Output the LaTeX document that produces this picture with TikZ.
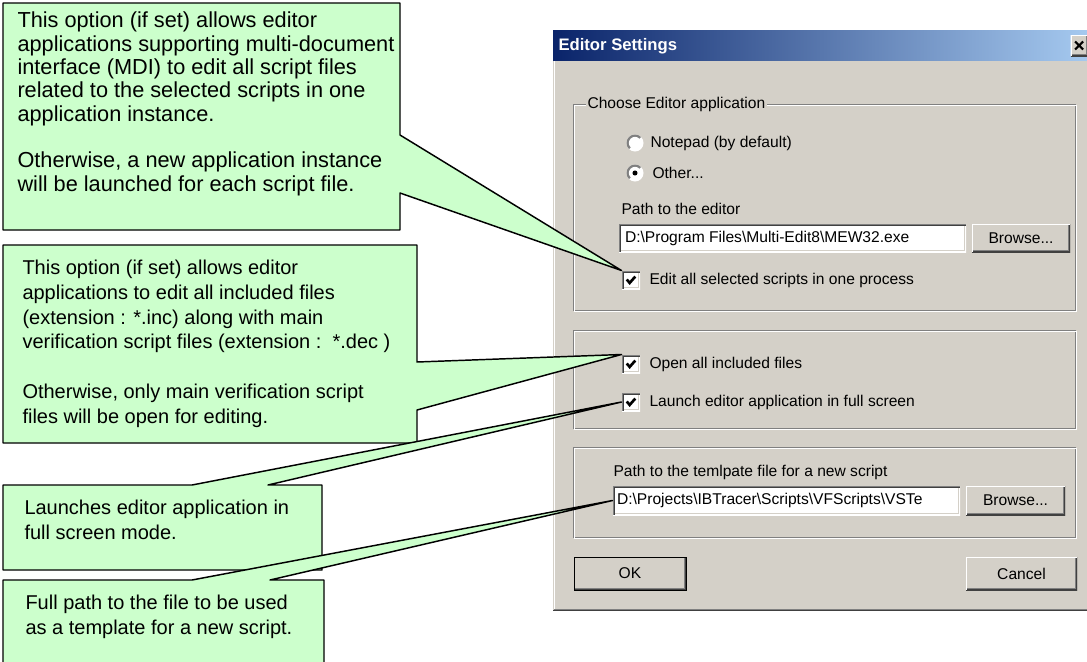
\documentclass[tikz,border=0pt]{standalone}
\usepackage{fontspec}
\setmainfont{Liberation Sans}
\usepackage{tikz}
\usetikzlibrary{calc}

\definecolor{notegreen}{RGB}{204,255,204}
\definecolor{dlgbg}{RGB}{212,208,200}
\definecolor{dlgshadow}{RGB}{128,128,128}
\definecolor{dlgdark}{RGB}{64,64,64}
\definecolor{titledark}{RGB}{10,36,106}
\definecolor{titlelight}{RGB}{166,202,240}

\newcommand\notefont{\fontsize{15pt}{18.6pt}\selectfont}
\newcommand\dlgfont{\fontsize{11.7pt}{14pt}\selectfont}
\newcommand\titlefont{\fontsize{12.5pt}{15pt}\selectfont\bfseries}
\newcommand\bsl{\textbackslash}
% 3d edges of the dialog controls
\newcommand\sunkenedge{%
  \draw[dlgbg, line width=3pt] (path picture bounding box.south west) -| (path picture bounding box.north east);
  \draw[white, line width=1.5pt] (path picture bounding box.south west) -| (path picture bounding box.north east);
  \draw[dlgdark, line width=3pt] (path picture bounding box.south west) |- (path picture bounding box.north east);
  \draw[dlgshadow, line width=1.5pt] (path picture bounding box.south west) |- (path picture bounding box.north east);}
\newcommand\radioring{%
  \fill[dlgshadow] (path picture bounding box.south west) -- (path picture bounding box.north west) -- (path picture bounding box.north east) -- cycle;
  \fill[white] (path picture bounding box.center) circle (4.6pt);}

\tikzset{
  notebox/.style={fill=notegreen, draw=black, line width=1.1pt, line join=round},
  notetext/.style={anchor=north west, align=left, inner sep=0pt, font=\notefont},
  dlgtext/.style={anchor=west, inner sep=0pt, font=\dlgfont},
  grouplabel/.style={dlgtext, fill=dlgbg, inner xsep=1.5pt},
  btn/.style={fill=dlgbg, inner sep=0pt, font=\dlgfont, path picture={
    \draw[dlgshadow, line width=3pt] (path picture bounding box.south west) -| (path picture bounding box.north east);
    \draw[dlgdark, line width=1.5pt] (path picture bounding box.south west) -| (path picture bounding box.north east);
    \draw[white, line width=1.5pt] (path picture bounding box.south west) |- (path picture bounding box.north east);}},
  defbtn/.style={btn, draw=black, line width=0.75pt},
  editfield/.style={fill=white, inner sep=0pt, path picture={\sunkenedge}},
  checkbox/.style={fill=white, minimum size=13.5pt, inner sep=0pt, path picture={\sunkenedge
    \draw[black, line width=2pt] ([shift={(-3.2pt,0.4pt)}]path picture bounding box.center)
      -- ([shift={(-1pt,-2.2pt)}]path picture bounding box.center)
      -- ([shift={(3.2pt,2.6pt)}]path picture bounding box.center);}},
  radio/.style={circle, minimum size=12.75pt, inner sep=0pt, fill=white, path picture={\radioring}},
  radioon/.style={radio, path picture={\radioring
    \fill[black] (path picture bounding box.center) circle (1.9pt);}},
  titlebar/.style={left color=titledark, right color=titlelight, minimum width=402.75pt, minimum height=22.5pt, inner sep=0pt},
}

\begin{document}
\begin{tikzpicture}[x=0.75pt, y=-0.75pt, line width=0.75pt]
\useasboundingbox (0,0) rectangle (1087,661);

% dialog window
\fill[dlgbg] (553,30) rectangle (1090,610);
\draw[white] (554,30) -- (554,609);
\draw[dlgshadow] (554,609) -- (1090,609);
\draw[dlgdark] (553,610.5) -- (1090,610.5);
\node[titlebar] (titleBar) at (821.5,45) {};
\node[anchor=west, inner sep=0pt, text=white, font=\titlefont] (titleText) at (558,46) {Editor Settings};
\node[btn, minimum width=12.75pt, minimum height=15.75pt] (closeBtn) at (1079,45.5) {};
\draw[line width=1.6pt] ([shift={(-3pt,3pt)}]closeBtn.center) -- ([shift={(3pt,-3pt)}]closeBtn.center)
  ([shift={(-3pt,-3pt)}]closeBtn.center) -- ([shift={(3pt,3pt)}]closeBtn.center);

\foreach \ya/\yb in {104/310, 330/428, 447/537}{
  \draw[dlgshadow] (573,\ya) rectangle (1075,\yb);
  \draw[white] (574,\ya+1) rectangle (1076,\yb+1);
}

% editor application
\node[grouplabel] (editorGroup) at (585,104) {Choose Editor application};
\node[radio] (notepadRadio) at (635,143) {};
\node[dlgtext] (notepadText) at (650,143) {Notepad (by default)};
\node[radioon] (otherRadio) at (635,173) {};
\node[dlgtext] (otherText) at (652,173) {Other...};
\node[dlgtext] (editorLabel) at (621,209) {Path to the editor};
\node[editfield, minimum width=260.25pt, minimum height=21pt] (editorField) at (792.5,238) {};
\node[dlgtext] (editorPath) at ([xshift=4.5pt]editorField.west) {D:\bsl Program Files\bsl Multi-Edit8\bsl MEW32.exe};
\node[btn, minimum width=73.5pt, minimum height=21pt] (editorBrowse) at (1021,238) {Browse...};
\node[checkbox] (editBox) at (631,280) {};
\node[dlgtext] (editText) at (649,280) {Edit all selected scripts in one process};

% included files, full screen
\node[checkbox] (openBox) at (631,364) {};
\node[dlgtext] (openText) at (649,364) {Open all included files};
\node[checkbox] (launchBox) at (631,402) {};
\node[dlgtext] (launchText) at (649,402) {Launch editor application in full screen};

% template file
\node[dlgtext] (tplLabel) at (613,472) {Path to the temlpate file for a new script};
\node[editfield, minimum width=260.25pt, minimum height=21.75pt] (tplField) at (786.5,500.5) {};
\begin{scope}
  \clip (tplField.south west) rectangle (tplField.north east);
  \node[dlgtext] (tplPath) at ([xshift=3pt]tplField.west) {D:\bsl Projects\bsl IBTracer\bsl Scripts\bsl VFScripts\bsl VSTe};
\end{scope}
\node[btn, minimum width=74.25pt, minimum height=21.75pt] (tplBrowse) at (1015.5,500.5) {Browse...};

\node[defbtn, minimum width=84pt, minimum height=24.75pt] (okBtn) at (630,573.5) {OK};
\node[btn, minimum width=83.25pt, minimum height=24.75pt] (cancelBtn) at (1021.5,573.5) {Cancel};

% callouts
\draw[notebox] (3,3) -- (400,3) -- (400,135) -- (editBox.north west) -- (400,193) -- (400,230) -- (3,230) -- cycle;
\node[notetext, font=\fontsize{16.3pt}{17.5pt}\selectfont] (mdiNote) at (17,11.5) {This option (if set) allows editor\\
  applications supporting multi-document\\ interface (MDI) to edit all script files\\
  related to the selected scripts in one\\ application instance.\\[17.5pt]
  Otherwise, a new application instance\\ will be launched for each script file.};

\draw[notebox] (3,245) -- (417,245) -- (417,362) -- (openBox.north west) -- (417,410) -- (417,443) -- (3,443) -- cycle;
\node[notetext] (incNote) at (22,259.5) {This option (if set) allows editor\\
  applications to edit all included files\\ (extension : *.inc) along with main\\
  verification script files (extension :\ \ *.dec )\\[18.6pt]
  Otherwise, only main verification script\\ files will be open for editing.};

\draw[notebox] (3,485) -- (192,485) -- (launchBox.west) -- (268,485) -- (322,485) -- (322,570) -- (3,570) -- cycle;
\node[notetext] (fullNote) at (24,499.5) {Launches editor application in\\ full screen mode.};

\draw[notebox] (3,580) -- (192,580) -- (tplField.west) -- (270,580) -- (324,580) -- (324,670) -- (3,670) -- cycle;
\node[notetext] (tplNote) at (25,594.5) {Full path to the file to be used\\ as a template for a new script.};
\end{tikzpicture}
\end{document}
